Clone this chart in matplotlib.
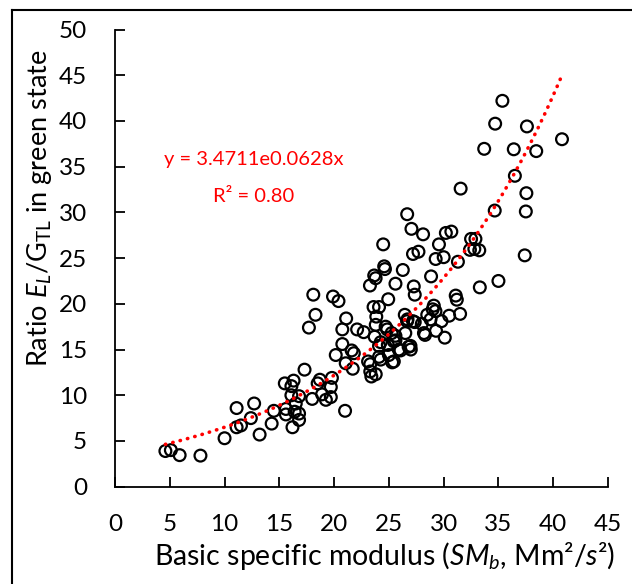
import numpy as np
import matplotlib
matplotlib.use("Agg")
import matplotlib.pyplot as plt
from matplotlib.lines import Line2D

plt.rcParams['font.family'] = ['Lato', 'DejaVu Sans']
plt.rcParams['mathtext.fontset'] = 'custom'
plt.rcParams['mathtext.rm'] = 'Lato'
plt.rcParams['mathtext.it'] = 'Lato:italic'

# Data
sm_b = [4.6, 5.1, 5.9, 7.8, 10.0, 11.1, 11.1, 11.5, 12.4, 12.7, 13.2, 14.3, 14.5,
        15.5, 15.6, 15.6, 16.1, 16.1, 16.3, 16.2, 16.4, 16.8, 16.8, 16.8, 17.3, 17.7,
        18.0, 18.5, 18.7, 18.9, 19.25, 19.7, 19.7, 19.8, 16.5, 21.0,
        18.1, 19.9, 20.4, 18.3, 21.1, 20.75, 22.1, 22.7, 20.75, 21.6, 21.8, 20.15, 21.06, 21.7,
        23.1, 23.3, 24.1, 24.25, 25.0, 25.3, 23.3, 23.8, 23.4,
        23.8, 24.7, 24.85, 23.7, 25.25, 26.5, 24.1, 24.25, 24.9, 25.6, 26.8, 26.97, 26.06, 25.6,
        26.66, 27.36, 28.0, 28.2, 28.3, 29.3, 30.1,
        26.45, 28.5, 29.8, 30.5, 31.5, 29.1, 29.0, 29.25,
        23.6, 24.1, 23.85, 24.94,
        31.1, 31.2, 33.3, 35.0,
        25.6, 27.27, 27.36, 23.27, 23.66, 23.79, 28.85, 26.27, 24.57, 24.64,
        27.7, 27.2, 29.27, 30.0, 31.3, 24.48, 29.57,
        32.5, 32.9, 32.4, 32.8, 33.25,
        27.06, 28.12, 30.2, 30.7, 26.67, 31.55,
        34.66, 37.5, 37.55, 36.5, 33.7, 36.4, 38.45, 40.8, 34.7, 37.6, 35.36, 37.4,
        25.9, 27.0, 25.45, 28.8, 26.7, 27.2, 25.45]
ratio = [3.9, 4.0, 3.45, 3.4, 5.3, 8.6, 6.5, 6.7, 7.5, 9.1, 5.7, 6.9, 8.3,
         11.3, 8.5, 7.9, 11.0, 10.0, 11.6, 6.5, 8.2, 9.9, 8.0, 7.3, 12.8, 17.4,
         9.6, 11.3, 11.7, 10.1, 9.5, 9.8, 10.9, 11.9, 9.1, 8.3,
         21.0, 20.8, 20.3, 18.8, 18.4, 17.2, 17.2, 16.9, 15.6, 14.9, 14.6, 14.4, 13.5, 12.9,
         13.7, 13.4, 14.2, 13.9, 14.4, 13.6, 12.6, 12.3, 12.05,
         17.7, 17.5, 17.2, 16.4, 16.8, 16.8, 15.4, 15.8, 15.5, 16.0, 15.3, 15.4, 14.9, 16.5,
         18.1, 18.0, 17.8, 16.8, 16.6, 17.05, 16.3,
         18.8, 18.8, 18.1, 18.7, 18.9, 19.8, 19.4, 19.2,
         19.65, 19.65, 18.6, 20.5,
         20.9, 20.45, 21.8, 22.5,
         22.2, 21.9, 21.0, 22.0, 23.1, 22.8, 23.0, 23.7, 24.1, 23.8,
         25.7, 25.45, 24.9, 25.1, 24.6, 26.5, 26.5,
         27.1, 27.1, 25.9, 26.0, 25.85,
         28.2, 27.6, 27.75, 27.9, 29.8, 32.6,
         30.2, 30.1, 32.1, 34.0, 36.95, 36.9, 36.7, 38.0, 39.7, 39.4, 42.2, 25.3,
         15.0, 15.0, 13.7, 18.3, 18.3, 18.1, 15.9]

fit_a = 3.4711
fit_b = 0.0628
x_ticks = [0, 5, 10, 15, 20, 25, 30, 35, 40, 45]
y_ticks = [0, 5, 10, 15, 20, 25, 30, 35, 40, 45, 50]

fig = plt.figure(figsize=(6.32, 5.84), dpi=100)
ax = fig.add_axes([115/632, 1-486.7/584, (608-115)/632, (486.7-29.5)/584])

ax.scatter(sm_b, ratio, s=72, facecolors='none', edgecolors='black', linewidths=1.6, zorder=3)

xf = np.linspace(min(sm_b), max(sm_b), 200)
ax.plot(xf, fit_a*np.exp(fit_b*xf), color='red', lw=2.6, linestyle=(0, (0.1, 2.0)),
        dash_capstyle='round', zorder=4)

ax.set_xlim(0, 45)
ax.set_ylim(0, 50)
ax.set_xticks(x_ticks)
ax.set_yticks(y_ticks)
ax.spines['top'].set_visible(False)
ax.spines['right'].set_visible(False)
for s in ['left', 'bottom']:
    ax.spines[s].set_linewidth(1.3)
ax.tick_params(axis='both', direction='in', length=7, width=1.3, labelsize=17.5, colors='black')
ax.tick_params(axis='x', pad=20)
ax.tick_params(axis='y', pad=20)

ax.text(254/632, 1-160/584, 'y = 3.4711e0.0628x', transform=fig.transFigure,
        color='red', fontsize=14.5, ha='center', va='center')
ax.text(254/632, 1-197/584, 'R² = 0.80', transform=fig.transFigure,
        color='red', fontsize=14.5, ha='center', va='center')

fig.text(385/632, 1-556/584, r'Basic specific modulus ($\mathit{SM_b}$, Mm²/$\mathit{s}$²)',
         fontsize=20.5, ha='center', va='center')
fig.text(40/632, 1-208/584, r'Ratio $\mathit{E_L}$/G$_\mathrm{TL}$ in green state',
         fontsize=19.5, ha='center', va='center', rotation=90)

# outer chart frame (left and top edges visible)
fig.add_artist(Line2D([12/632, 12/632], [0, 1-10/584], transform=fig.transFigure, color='black', lw=1.5))
fig.add_artist(Line2D([12/632, 1], [1-10/584, 1-10/584], transform=fig.transFigure, color='black', lw=1.5))

fig.savefig('out.png', dpi=100)
